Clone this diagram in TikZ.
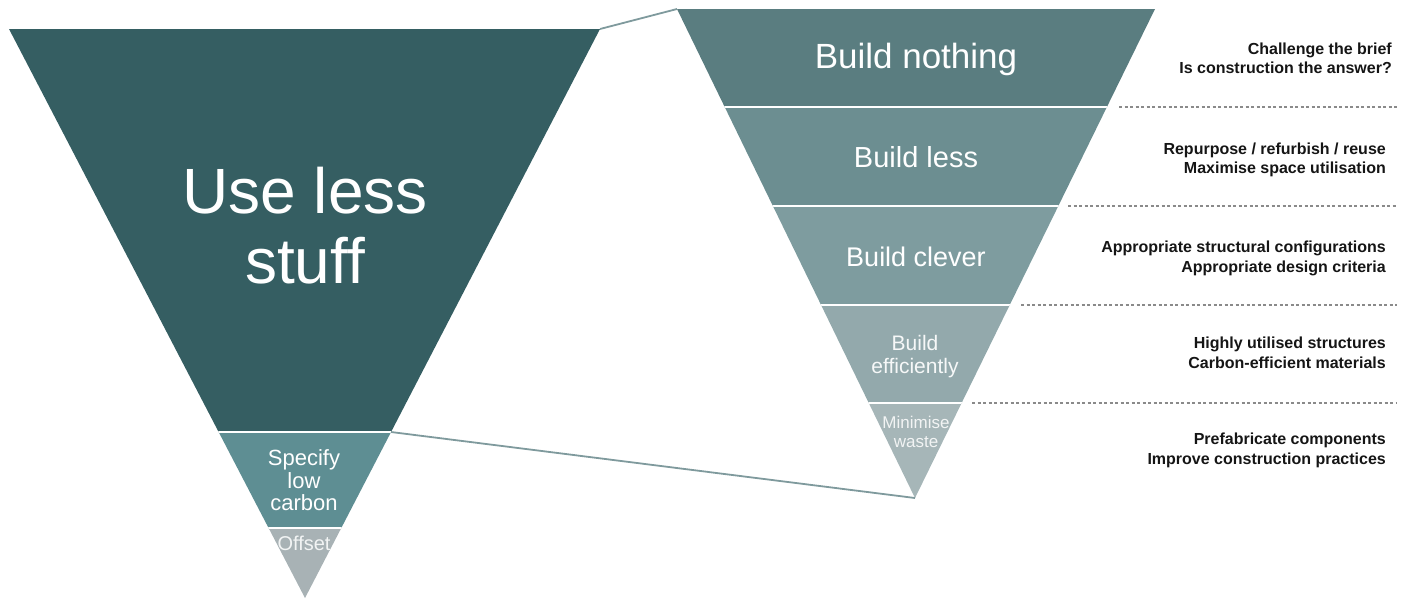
\documentclass[tikz,border=0pt]{standalone}
\usepackage{fontspec}
\setmainfont{Liberation Sans}
\usetikzlibrary{calc}
\definecolor{ldark}{HTML}{355E62}
\definecolor{lmid}{HTML}{5E8E93}
\definecolor{llight}{HTML}{A8B2B5}
\definecolor{rone}{HTML}{5A7D80}
\definecolor{rtwo}{HTML}{6C8E91}
\definecolor{rthree}{HTML}{7E9C9F}
\definecolor{rfour}{HTML}{93A9AC}
\definecolor{rfive}{HTML}{A6B6B8}
\definecolor{linkc}{HTML}{7F9A9D}
\definecolor{notec}{HTML}{151515}
\definecolor{guidec}{HTML}{8A8A8A}
\begin{document}
\begin{tikzpicture}[x=1pt,y=-1pt,
  lbl/.style={text=white, inner sep=0pt, anchor=base},
  note/.style={text=notec, font=\bfseries\fontsize{16}{19}\selectfont, inner sep=0pt, anchor=base east},
  sepline/.style={draw=white, line width=2pt},
  guide/.style={draw=guidec, dash pattern=on 3pt off 2.5pt, line width=1.2pt},
  link/.style={draw=linkc, line width=1.8pt}]
\useasboundingbox (0,0) rectangle (1410,598);
% corners
\coordinate (LA) at (9,29);
\coordinate (LB) at (600,29);
\coordinate (LC) at (305,598);
\coordinate (RA) at (677,9);
\coordinate (RB) at (1155,9);
\coordinate (RC) at (915,498);
\coordinate (LS) at (391,432);
% left triangle
\begin{scope}
\clip (LA) -- (LB) -- (LC) -- cycle;
\fill[ldark] (0,0) rectangle (620,432);
\fill[lmid] (0,432) rectangle (620,528);
\fill[llight] (0,528) rectangle (620,600);
\draw[sepline] (0,432) -- (620,432);
\draw[sepline] (0,528) -- (620,528);
\node[lbl, text=white!85!llight, font=\fontsize{20}{22}\selectfont] (off) at (304,550) {Offset};
\end{scope}
% right triangle
\begin{scope}
\clip (RA) -- (RB) -- (RC) -- cycle;
\fill[rone] (660,0) rectangle (1170,107);
\fill[rtwo] (660,107) rectangle (1170,206);
\fill[rthree] (660,206) rectangle (1170,305);
\fill[rfour] (660,305) rectangle (1170,403);
\fill[rfive] (660,403) rectangle (1170,500);
\foreach \yy in {107,206,305,403} \draw[sepline] (660,\yy) -- (1170,\yy);
\node[lbl, text=white!85!rfive, font=\fontsize{17}{19}\selectfont] (mw1) at (916,428) {Minimise};
\node[lbl, text=white!85!rfive, font=\fontsize{17}{19}\selectfont] (mw2) at (916,447) {waste};
\end{scope}
% connectors
\draw[link] (LB) -- (RA);
\draw[link] (LS) -- (RC);
% guides
\coordinate (G1) at (1119,107); \coordinate (H1) at (1397,107);
\coordinate (G2) at (1068,206); \coordinate (H2) at (1397,206);
\coordinate (G3) at (1021,305); \coordinate (H3) at (1397,305);
\coordinate (G4) at (972,403);  \coordinate (H4) at (1397,403);
\draw[guide] (G1) -- (H1);
\draw[guide] (G2) -- (H2);
\draw[guide] (G3) -- (H3);
\draw[guide] (G4) -- (H4);
% left labels
\node[lbl, font=\fontsize{64}{70}\selectfont] (u1) at (305,213) {Use less};
\node[lbl, font=\fontsize{64}{70}\selectfont] (u2) at (305,283) {stuff};
\node[lbl, font=\fontsize{22}{23}\selectfont] (s1) at (304,465) {Specify};
\node[lbl, font=\fontsize{22}{23}\selectfont] (s2) at (304,488) {low};
\node[lbl, font=\fontsize{22}{23}\selectfont] (s3) at (304,510) {carbon};
% right labels
\node[lbl, font=\fontsize{35}{40}\selectfont] (b1) at (916,68) {Build nothing};
\node[lbl, font=\fontsize{29}{32}\selectfont] (b2) at (916,167) {Build less};
\node[lbl, font=\fontsize{27}{30}\selectfont] (b3) at (916,266) {Build clever};
\node[lbl, text=white!92!rfour, font=\fontsize{21}{23}\selectfont] (b4a) at (915,350) {Build};
\node[lbl, text=white!92!rfour, font=\fontsize{21}{23}\selectfont] (b4b) at (915,373) {efficiently};
% notes
\node[note] (n1a) at (1392,54) {Challenge the brief};
\node[note] (n1b) at (1392,73.5) {Is construction the answer?};
\node[note] (n2a) at (1386,154) {Repurpose / refurbish / reuse};
\node[note] (n2b) at (1386,173) {Maximise space utilisation};
\node[note] (n3a) at (1386,252) {Appropriate structural configurations};
\node[note] (n3b) at (1386,272) {Appropriate design criteria};
\node[note] (n4a) at (1386,348) {Highly utilised structures};
\node[note] (n4b) at (1386,368) {Carbon-efficient materials};
\node[note] (n5a) at (1386,444) {Prefabricate components};
\node[note] (n5b) at (1386,464) {Improve construction practices};
\end{tikzpicture}
\end{document}
